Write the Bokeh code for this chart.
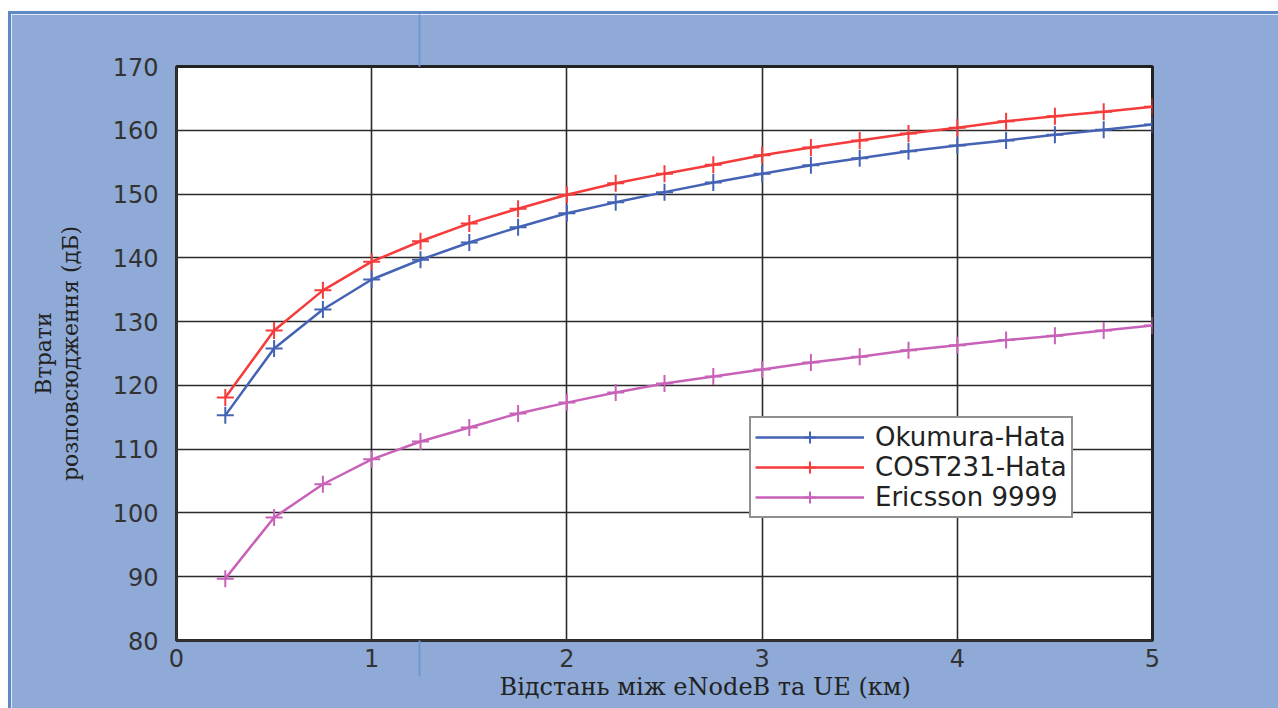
from bokeh.embed import file_html
from bokeh.layouts import column, row
from bokeh.models import FixedTicker, LinearAxis, Range1d, Spacer, Title
from bokeh.plotting import figure
from bokeh.resources import INLINE

# Distance between eNodeB and UE, km
distance_km = [0.25, 0.5, 0.75, 1.0, 1.25, 1.5, 1.75, 2.0, 2.25, 2.5,
               2.75, 3.0, 3.25, 3.5, 3.75, 4.0, 4.25, 4.5, 4.75, 5.0]

# Path loss, dB
okumura_hata = [115.3, 125.8, 131.9, 136.6, 139.7, 142.4, 144.8, 147.0, 148.7, 150.3,
                151.8, 153.2, 154.5, 155.6, 156.7, 157.6, 158.4, 159.3, 160.1, 160.9]
cost231_hata = [118.1, 128.6, 134.9, 139.4, 142.6, 145.4, 147.7, 149.9, 151.7, 153.2,
                154.6, 156.1, 157.3, 158.4, 159.5, 160.4, 161.4, 162.2, 162.9, 163.7]
ericsson_9999 = [89.7, 99.3, 104.5, 108.4, 111.2, 113.4, 115.6, 117.3, 118.9, 120.3,
                 121.4, 122.5, 123.6, 124.5, 125.5, 126.3, 127.1, 127.8, 128.6, 129.4]

series_names = ["Okumura-Hata", "COST231-Hata", "Ericsson 9999"]
series_colors = ["#4563B4", "#F53B3B", "#C862B9"]

x_ticks = [0, 1, 2, 3, 4, 5]
y_ticks = [80, 90, 100, 110, 120, 130, 140, 150, 160, 170]

x_label = "Відстань між eNodeB та UE (км)"
y_label = "Втрати\nрозповсюдження (дБ)"

# Page layout (pixels): white margin, darker panel edge, then the figure
PAGE_W, PAGE_H = 1278, 708
WHITE_LEFT, WHITE_TOP, EDGE = 8, 11, 3
FIG_LEFT, FIG_TOP = WHITE_LEFT + EDGE, WHITE_TOP + EDGE
W, H = PAGE_W - FIG_LEFT, PAGE_H - FIG_TOP
FRAME_LEFT, FRAME_RIGHT, FRAME_TOP, FRAME_BOTTOM = 176, 1152, 66, 640
X0, X1 = 0, 5
Y0, Y1 = 80, 170

BLUE_BG = "#8FAAD6"
BLUE_EDGE = "#5F88C6"
DIVIDER = "#7396CE"
SANS = "DejaVu Sans"
SERIF = "DejaVu Serif"

DIVIDER_DOWN = 36   # how far the divider shows below the frame
X_LABEL_GAP = 8     # gap between frame bottom and x tick labels

# page column of the thin divider line that runs behind the plot frame
divider_x = X0 + (419 - FRAME_LEFT) / (FRAME_RIGHT - FRAME_LEFT) * (X1 - X0)

p = figure(width=W, height=H, output_backend="svg", toolbar_location=None,
           x_range=Range1d(X0, X1), y_range=Range1d(Y0, Y1),
           min_border_left=FRAME_LEFT - FIG_LEFT,
           min_border_right=PAGE_W - FRAME_RIGHT,
           min_border_top=FRAME_TOP - FIG_TOP,
           min_border_bottom=PAGE_H - FRAME_BOTTOM,
           border_fill_color=BLUE_BG, background_fill_color="white",
           outline_line_color="#222222", outline_line_width=3)

for ys, name, color in zip([okumura_hata, cost231_hata, ericsson_9999],
                           series_names, series_colors):
    p.line(distance_km, ys, line_color=color, line_width=2.5, legend_label=name)
    p.scatter(distance_km, ys, marker="cross", size=17, line_color=color,
              line_width=2, legend_label=name)

# Axes
for ax in (p.xaxis[0], p.yaxis[0]):
    ax.axis_line_color = "#333333"
    ax.axis_line_width = 2
    ax.major_tick_line_color = None
    ax.major_label_text_font = SANS
    ax.major_label_text_font_size = "24px"
    ax.major_label_text_color = "#333333"
    ax.axis_label_text_font = SERIF
    ax.axis_label_text_font_style = "normal"
    ax.axis_label_text_color = "#222222"

p.xaxis.ticker = FixedTicker(ticks=x_ticks, minor_ticks=[divider_x])
p.xaxis.minor_tick_in = 0
p.xaxis.minor_tick_out = DIVIDER_DOWN
p.xaxis.minor_tick_line_color = DIVIDER
p.xaxis.minor_tick_line_width = 2
# the long divider tick would push the labels down; pull them back up
p.xaxis.major_label_standoff = X_LABEL_GAP - DIVIDER_DOWN

p.yaxis.ticker = FixedTicker(ticks=y_ticks)
p.yaxis.minor_tick_line_color = None
p.yaxis.major_label_standoff = 12
p.yaxis.axis_label = y_label
p.yaxis.axis_label_text_font_size = "22px"
p.yaxis.axis_label_text_line_height = 1.05
p.yaxis.axis_label_standoff = 27

# divider continues above the frame
top_axis = LinearAxis(ticker=FixedTicker(ticks=[], minor_ticks=[divider_x]),
                      axis_line_color=None, major_tick_line_color=None,
                      minor_tick_in=0, minor_tick_out=FRAME_TOP - FIG_TOP,
                      minor_tick_line_color=DIVIDER, minor_tick_line_width=2,
                      major_label_standoff=0)
p.add_layout(top_axis, "above")

p.add_layout(Title(text=x_label, align="left", offset=323, standoff=3,
                   text_font=SERIF, text_font_size="24px",
                   text_font_style="normal", text_color="#222222"), "below")

p.grid.grid_line_color = "#2a2a2a"
p.grid.grid_line_width = 1.6
p.xgrid.ticker = FixedTicker(ticks=x_ticks)
p.ygrid.ticker = FixedTicker(ticks=y_ticks)

# Legend
lg = p.legend[0]
lg.location = (749 - FRAME_LEFT, FRAME_BOTTOM - 518)
lg.border_line_color = "#222222"
lg.border_line_width = 2
lg.background_fill_color = "white"
lg.background_fill_alpha = 1
lg.padding = 4
lg.spacing = 0
lg.margin = 0
lg.label_height = 30
lg.glyph_height = 30
lg.glyph_width = 109
lg.label_standoff = 11
lg.label_text_font = SANS
lg.label_text_font_size = "26px"
lg.label_text_color = "#222222"

edge_style = {"background-color": BLUE_EDGE}
top_edge = Spacer(width=PAGE_W - WHITE_LEFT, height=EDGE, margin=0, styles=edge_style)
left_edge = Spacer(width=EDGE, height=H, margin=0, styles=edge_style)

layout = column(
    Spacer(height=WHITE_TOP, margin=0),
    row(Spacer(width=WHITE_LEFT, margin=0), top_edge, spacing=0),
    row(Spacer(width=WHITE_LEFT, margin=0), left_edge, p, spacing=0),
    spacing=0,
)

open("out.html", "w").write(file_html(layout, INLINE))
